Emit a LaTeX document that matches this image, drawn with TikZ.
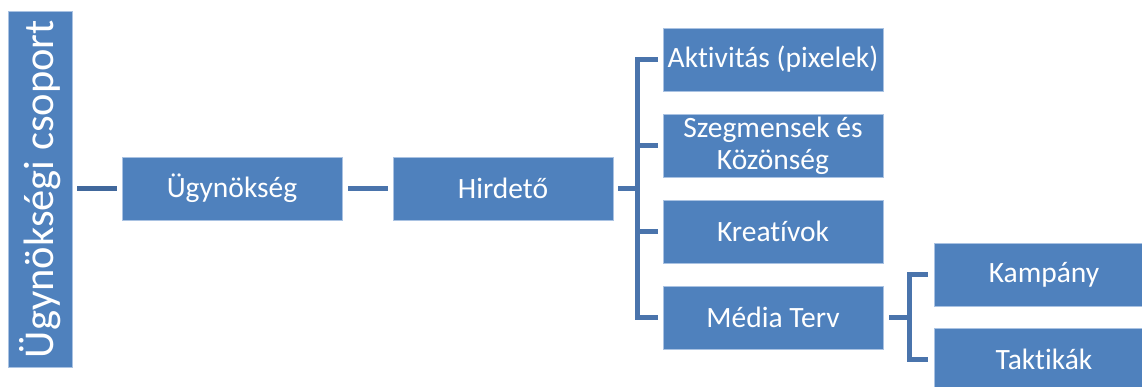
\documentclass[tikz,border=0pt]{standalone}
\usepackage{fontspec}
\setmainfont{Carlito}[Ligatures={NoCommon}]
\begin{document}
\begin{tikzpicture}[x=1pt,y=-1pt,
  box/.style={rectangle, fill=boxblue, draw=boxedge, line width=0.8pt,
    minimum width=220pt, minimum height=63pt, inner sep=0pt,
    text=white, font=\fontsize{29.5pt}{32pt}\selectfont, align=center},
  conn/.style={draw=linkblue, line width=5pt, line join=miter},
  firstconn/.style={draw=linkdark, line width=5pt}]
\definecolor{boxblue}{HTML}{4F81BD}
\definecolor{boxedge}{HTML}{A9C2E2}
\definecolor{linkblue}{HTML}{4A74AC}
\definecolor{linkdark}{HTML}{41689C}

\clip (0,0) rectangle (1142,387);
\fill[white] (0,0) rectangle (1142,387);

% group column
\node[box, minimum width=64pt, minimum height=356pt] (grp) at (40,189) {};
\node[rotate=90, text=white, font=\fontsize{42.5pt}{48pt}\selectfont] (grplabel) at (grp.center) {Ügynökségi csoport};

% main chain
\node[box] (ag) at (232,188.5) {Ügynökség};
\node[box] (hd) at (503,188.5) {Hirdető};

% children of the advertiser
\node[box] (c1) at (773,59.5) {Aktivitás (pixelek)};
\node[box] (c2) at (773,145.5) {Szegmensek és\\Közönség};
\node[box] (c3) at (773,231.5) {Kreatívok};
\node[box] (c4) at (773,317.5) {Média Terv};

% children of the media plan
\node[box] (k1) at (1044,274.5) {Kampány};
\node[box] (k2) at (1044,359.5) {Taktikák};

% connectors along the chain
\draw[firstconn] ([xshift=5pt]grp.east |- ag.west) -- ([xshift=-5pt]ag.west);
\draw[conn] ([xshift=6pt]ag.east) -- ([xshift=-5pt]hd.west);

% advertiser bracket
\coordinate (busA) at (637,188.5);
\draw[conn] ([xshift=5pt]hd.east) -- (busA);
\draw[conn] ([xshift=-5pt]c1.west) -- (c1.west -| busA) -- (c4.west -| busA) -- ([xshift=-5pt]c4.west);
\draw[conn] (c2.west -| busA) -- ([xshift=-5pt]c2.west);
\draw[conn] (c3.west -| busA) -- ([xshift=-5pt]c3.west);

% media plan bracket
\coordinate (busB) at (909,317.5);
\draw[conn] ([xshift=6pt]c4.east) -- (busB);
\draw[conn] ([xshift=-6pt]k1.west) -- (k1.west -| busB) -- (k2.west -| busB) -- ([xshift=-6pt]k2.west);
\end{tikzpicture}
\end{document}
